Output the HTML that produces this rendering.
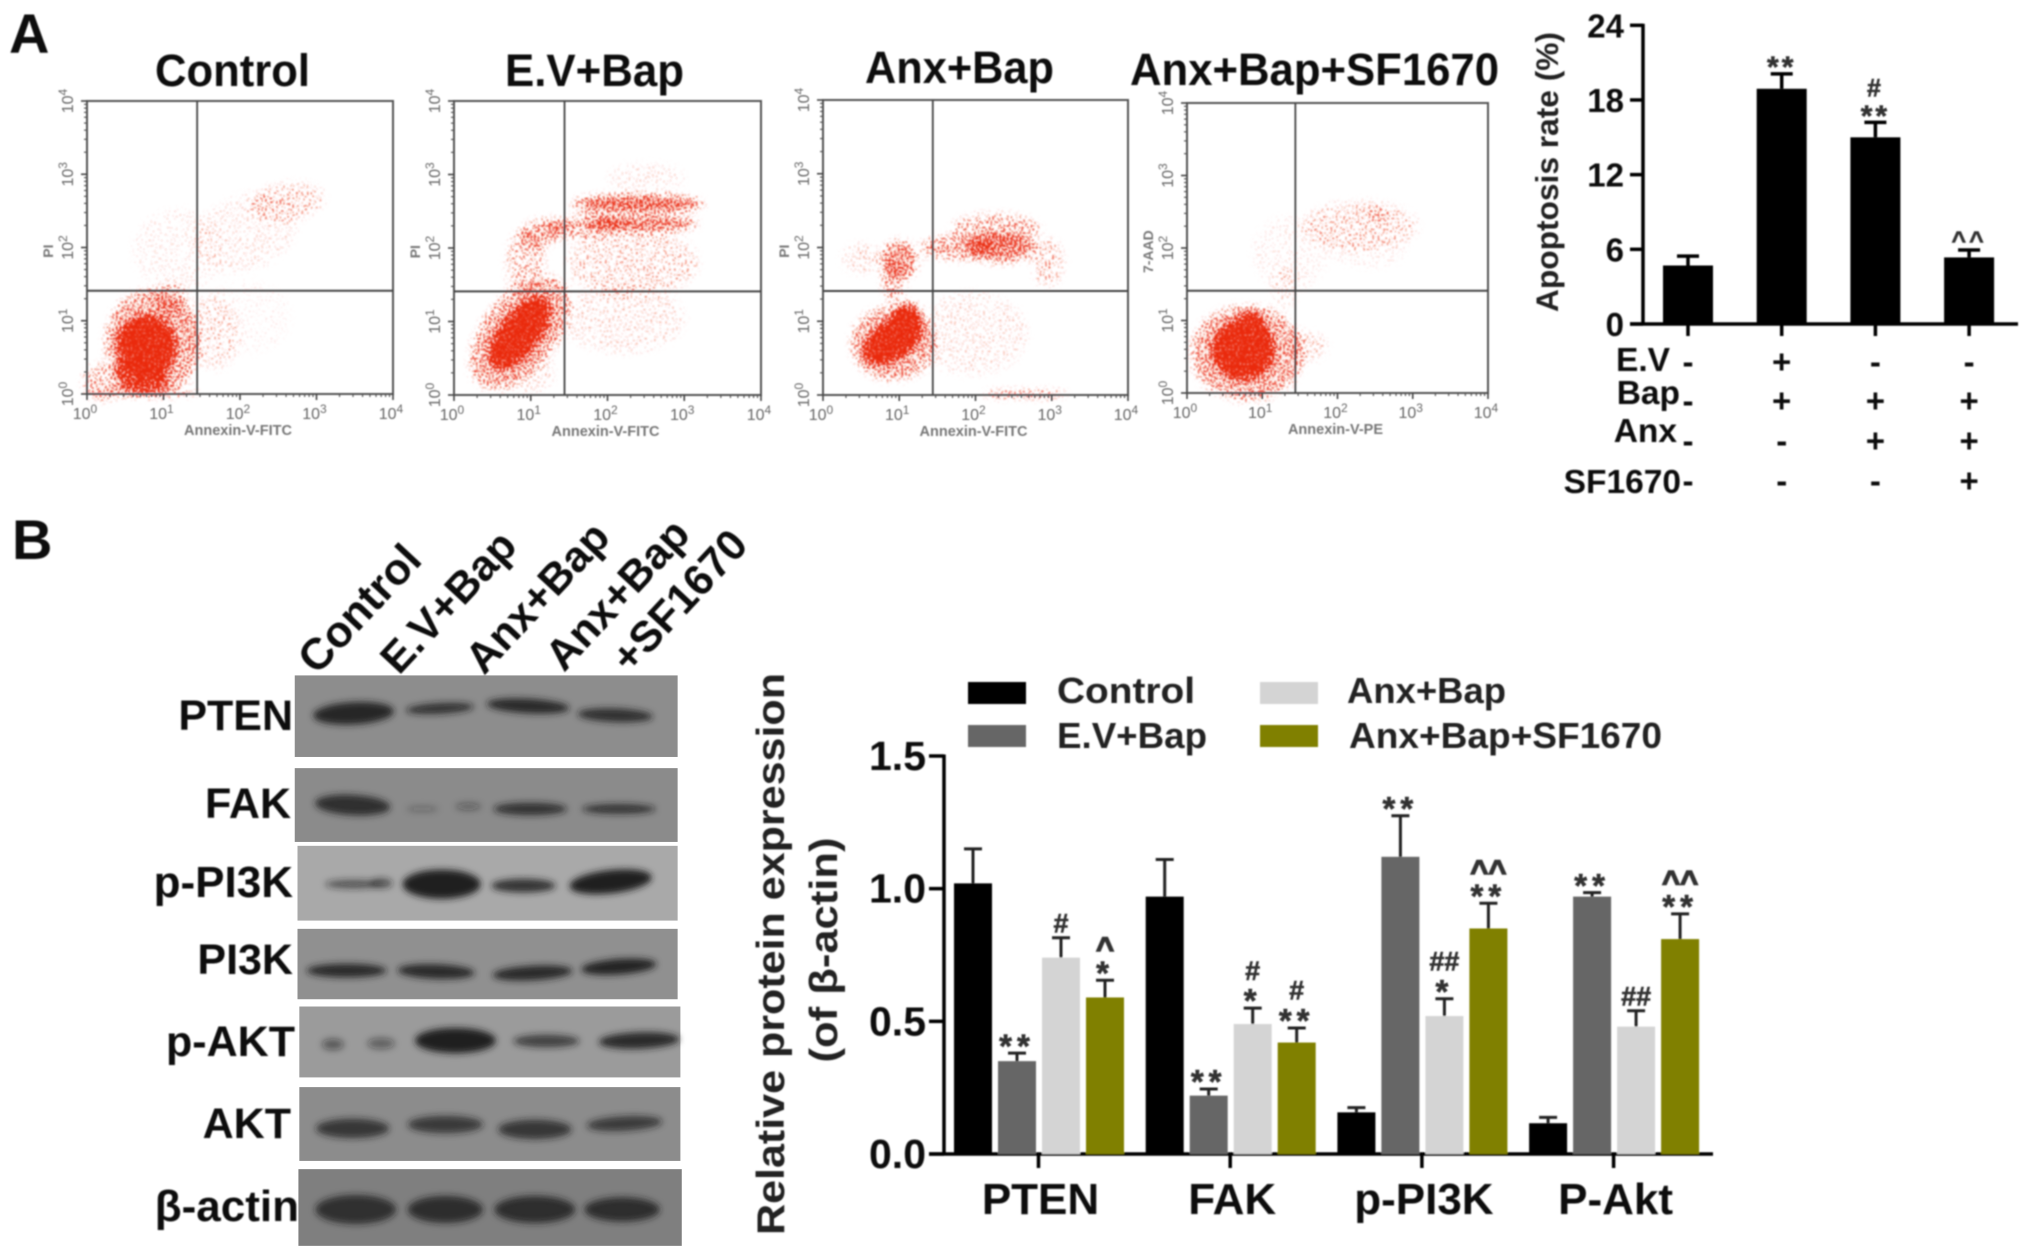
<!DOCTYPE html>
<html lang="en">
<head>
<meta charset="utf-8">
<title>Apoptosis and protein expression figure</title>
<style>
html,body{margin:0;padding:0;background:#fff;width:2031px;height:1259px;overflow:hidden}
svg{display:block;position:absolute;left:0;top:0}
text{font-family:"Liberation Sans",Arial,sans-serif}
.b{font-weight:bold;fill:#111}
</style>
</head>
<body>
<svg id="fig" width="2031" height="1259" viewBox="0 0 2031 1259" xmlns="http://www.w3.org/2000/svg">
<defs>
<filter id="soft" x="-5%" y="-5%" width="110%" height="110%"><feGaussianBlur stdDeviation="0.7"/></filter>
<filter id="bandBlur" x="-30%" y="-60%" width="160%" height="220%"><feGaussianBlur stdDeviation="7"/></filter>
<filter id="stipple0" filterUnits="userSpaceOnUse" x="0" y="90" width="2031" height="320" color-interpolation-filters="sRGB">
<feGaussianBlur in="SourceAlpha" stdDeviation="4" result="blob"/>
<feTurbulence type="fractalNoise" baseFrequency="0.55" numOctaves="1" seed="3" result="n"/>
<feColorMatrix in="n" type="matrix" values="0 0 0 0 0 0 0 0 0 0 0 0 0 0 0 3 0 0 0 -1" result="na"/>
<feComposite in="blob" in2="na" operator="arithmetic" k1="0" k2="4.5" k3="4" k4="-4" result="m"/>
<feFlood flood-color="#ea2a10"/>
<feComposite in2="m" operator="in"/>
<feGaussianBlur stdDeviation="0.45"/>
</filter>
</defs>
<rect x="0" y="0" width="2031" height="1259" fill="#fff"/>

<g id="flow" filter="url(#soft)"></g>
<g id="apo" filter="url(#soft)"></g>

<g filter="url(#soft)">
<text class="b" x="9" y="53" font-size="56">A</text>
<text class="b" x="12" y="559" font-size="56">B</text>
<text class="b" x="155" y="86" font-size="45" textLength="155" lengthAdjust="spacingAndGlyphs">Control</text>
<text class="b" x="505" y="86" font-size="45" textLength="179" lengthAdjust="spacingAndGlyphs">E.V+Bap</text>
<text class="b" x="865" y="83" font-size="45" textLength="189" lengthAdjust="spacingAndGlyphs">Anx+Bap</text>
<text class="b" x="1130" y="85" font-size="45" textLength="369" lengthAdjust="spacingAndGlyphs">Anx+Bap+SF1670</text>
</g>

<g>
<g transform="translate(0 498.2) scale(.4591 .4855)">
<rect x="642" y="365" width="834" height="168" fill="#8d8d8d"/>
<rect x="642" y="556" width="834" height="152" fill="#8b8b8b"/>
<rect x="648" y="716" width="828" height="154" fill="#a9a9a9"/>
<rect x="648" y="887" width="828" height="145" fill="#909090"/>
<rect x="652" y="1047" width="830" height="146" fill="#9b9b9b"/>
<rect x="652" y="1213" width="830" height="152" fill="#8c8c8c"/>
<rect x="650" y="1382" width="835" height="158" fill="#7f7f7f"/>
<g fill="#1c1c1c" filter="url(#bandBlur)">
<ellipse cx="770" cy="443" rx="88" ry="23" fill-opacity=".92" transform="rotate(-3 770 443)"/>
<ellipse cx="958" cy="433" rx="74" ry="11" fill-opacity=".8" transform="rotate(-3 958 433)"/>
<ellipse cx="1150" cy="428" rx="90" ry="15" fill-opacity=".9" transform="rotate(3 1150 428)"/>
<ellipse cx="1340" cy="447" rx="82" ry="14" fill-opacity=".85" transform="rotate(2 1340 447)"/>
<ellipse cx="768" cy="632" rx="82" ry="21" fill-opacity=".85" transform="rotate(3 768 632)"/>
<ellipse cx="920" cy="640" rx="35" ry="6" fill-opacity=".26"/>
<ellipse cx="1020" cy="635" rx="28" ry="7" fill-opacity=".38"/>
<ellipse cx="1155" cy="640" rx="80" ry="13" fill-opacity=".78"/>
<ellipse cx="1348" cy="640" rx="80" ry="10" fill-opacity=".78"/>
<ellipse cx="770" cy="795" rx="62" ry="9" fill-opacity=".6"/>
<ellipse cx="830" cy="793" rx="25" ry="10" fill-opacity=".6"/>
<ellipse cx="962" cy="795" rx="85" ry="30" fill-opacity=".98"/>
<ellipse cx="1140" cy="798" rx="70" ry="14" fill-opacity=".85"/>
<ellipse cx="1330" cy="790" rx="90" ry="24" fill-opacity=".98" transform="rotate(-6 1330 790)"/>
<ellipse cx="755" cy="973" rx="87" ry="14" fill-opacity=".9"/>
<ellipse cx="950" cy="975" rx="84" ry="15" fill-opacity=".9" transform="rotate(2 950 975)"/>
<ellipse cx="1160" cy="978" rx="87" ry="15" fill-opacity=".9" transform="rotate(-3 1160 978)"/>
<ellipse cx="1348" cy="965" rx="82" ry="16" fill-opacity=".95" transform="rotate(-4 1348 965)"/>
<ellipse cx="725" cy="1125" rx="24" ry="11" fill-opacity=".5"/>
<ellipse cx="830" cy="1123" rx="30" ry="11" fill-opacity=".45"/>
<ellipse cx="992" cy="1117" rx="88" ry="26" fill-opacity=".98"/>
<ellipse cx="1190" cy="1118" rx="72" ry="13" fill-opacity=".7"/>
<ellipse cx="1392" cy="1117" rx="88" ry="17" fill-opacity=".9" transform="rotate(-2 1392 1117)"/>
<ellipse cx="768" cy="1298" rx="80" ry="20" fill-opacity=".75"/>
<ellipse cx="970" cy="1290" rx="82" ry="18" fill-opacity=".72"/>
<ellipse cx="1165" cy="1300" rx="80" ry="20" fill-opacity=".75"/>
<ellipse cx="1360" cy="1288" rx="82" ry="15" fill-opacity=".72" transform="rotate(-3 1360 1288)"/>
<ellipse cx="775" cy="1465" rx="88" ry="30" fill-opacity=".78"/>
<ellipse cx="970" cy="1465" rx="82" ry="28" fill-opacity=".8"/>
<ellipse cx="1165" cy="1465" rx="88" ry="28" fill-opacity=".85"/>
<ellipse cx="1355" cy="1465" rx="82" ry="25" fill-opacity=".85"/>
</g>
</g>
<g filter="url(#soft)">
<text class="b" x="293" y="730" font-size="43" text-anchor="end">PTEN</text>
<text class="b" x="291" y="818" font-size="43" text-anchor="end">FAK</text>
<text class="b" x="293" y="897" font-size="44" text-anchor="end">p-PI3K</text>
<text class="b" x="293" y="974" font-size="43" text-anchor="end">PI3K</text>
<text class="b" x="295" y="1056" font-size="43" text-anchor="end">p-AKT</text>
<text class="b" x="291" y="1138" font-size="43" text-anchor="end">AKT</text>
<text class="b" x="299" y="1221" font-size="44" text-anchor="end">β-actin</text>
<text class="b" font-size="44" transform="translate(317 676) rotate(-47)">Control</text>
<text class="b" font-size="43" transform="translate(399 676) rotate(-47)">E.V+Bap</text>
<text class="b" font-size="43" transform="translate(484 676) rotate(-47)">Anx+Bap</text>
<text class="b" font-size="43" transform="translate(564 673) rotate(-47)">Anx+Bap</text>
<text class="b" font-size="43" transform="translate(630 675) rotate(-47)">+SF1670</text>
</g>
</g>

<g id="bars" filter="url(#soft)"></g>
</svg>

<script>
/* ---------- Flow cytometry data: density regions in log10 decades ---------- */
const flowDecades = [0, 1, 2, 3, 4];
const flowMinorSteps = [2, 3, 4, 5, 6, 7, 8, 9];
const flowXTitles = ['Annexin-V-FITC', 'Annexin-V-FITC', 'Annexin-V-FITC', 'Annexin-V-PE'];
const flowYTitles = ['PI', 'PI', 'PI', '7-AAD'];
const flowGateX = [1.44, 1.44, 1.44, 1.44];
const flowGateY = [1.41, 1.41, 1.41, 1.41];
/* each region: centre x, centre y, radius x, radius y, tilt, density */
const flowControlRegions = [
  [0.78, 0.66, 0.39, 0.42, 0, 1], [0.72, 0.30, 0.35, 0.30, 0, 0.8], [0.86, 0.70, 0.62, 0.72, 0, 0.42],
  [1.10, 1.29, 0.22, 0.22, 0, 0.3], [0.72, 0.03, 0.72, 0.05, 0, 0.5], [0.20, 0.16, 0.25, 0.25, 0, 0.25],
  [1.66, 0.84, 0.35, 0.50, 0, 0.12], [1.20, 1.97, 0.60, 0.55, 0, 0.06], [2.60, 2.62, 0.50, 0.25, -8, 0.18],
  [2.07, 2.20, 0.70, 0.50, -20, 0.08], [2.07, 1.05, 0.60, 0.50, 0, 0.03]
];
const flowEvRegions = [
  [0.86, 0.85, 0.56, 0.27, -52, 1], [0.86, 0.85, 0.85, 0.50, -52, 0.42], [2.40, 2.60, 0.85, 0.12, 0, 0.65],
  [2.45, 2.33, 0.72, 0.10, 0, 0.6], [1.73, 2.30, 0.52, 0.15, -6, 0.4], [1.13, 2.20, 0.30, 0.18, -20, 0.4],
  [0.93, 1.80, 0.25, 0.45, 0, 0.22], [2.33, 1.80, 0.85, 0.46, 0, 0.16], [2.20, 1.03, 0.80, 0.46, 0, 0.1],
  [2.50, 2.95, 0.50, 0.20, 0, 0.08], [0.95, 0.30, 0.35, 0.28, 0, 0.1]
];
const flowAnxRegions = [
  [0.92, 0.75, 0.44, 0.26, -35, 1], [1.10, 1.02, 0.20, 0.22, 0, 1], [0.92, 0.70, 0.55, 0.50, 0, 0.42],
  [1.00, 1.83, 0.24, 0.26, 0, 0.5], [0.92, 1.55, 0.15, 0.28, 0, 0.3], [1.78, 2.00, 0.50, 0.16, 0, 0.38],
  [2.33, 2.00, 0.46, 0.20, 0, 0.55], [2.27, 2.25, 0.58, 0.20, 0, 0.3], [2.95, 1.80, 0.20, 0.32, 0, 0.2],
  [1.96, 0.83, 0.72, 0.56, 0, 0.09], [0.50, 1.85, 0.25, 0.20, 0, 0.12], [2.64, 0.01, 0.55, 0.03, 0, 0.65]
];
const flowSfRegions = [
  [0.75, 0.60, 0.42, 0.42, 0, 1], [0.84, 0.90, 0.20, 0.22, 0, 1], [0.80, 0.55, 0.75, 0.65, 0, 0.42],
  [1.60, 0.64, 0.26, 0.20, 0, 0.14], [2.30, 2.30, 0.76, 0.34, 0, 0.17], [1.37, 1.93, 0.50, 0.50, 0, 0.06],
  [1.30, 1.47, 0.15, 0.30, 0, 0.1], [2.40, 1.95, 0.50, 0.22, 0, 0.05], [2.55, 2.45, 0.18, 0.10, 0, 0.2]
];
const flowRegions = [flowControlRegions, flowEvRegions, flowAnxRegions, flowSfRegions];

/* ---------- Apoptosis chart data ---------- */
const apoptosisGroups = ['Control', 'E.V+Bap', 'Anx+Bap', 'Anx+Bap+SF1670'];
const apoptosisValues = [4.7, 18.9, 15.0, 5.35];
const apoptosisErrors = [0.75, 1.2, 1.2, 0.6];
const apoptosisTicks = [0, 6, 12, 18, 24];
const apoptosisMarks = [[], ['**'], ['**', '#'], ['^^']];
const treatmentNames = ['E.V', 'Bap', 'Anx', 'SF1670'];
const treatmentEv = ['-', '+', '-', '-'];
const treatmentBap = ['-', '+', '+', '+'];
const treatmentAnx = ['-', '-', '+', '+'];
const treatmentSf = ['-', '-', '-', '+'];
const treatmentRows = [treatmentEv, treatmentBap, treatmentAnx, treatmentSf];

/* ---------- Protein expression chart data ---------- */
const proteinCategories = ['PTEN', 'FAK', 'p-PI3K', 'P-Akt'];
const proteinSeriesNames = ['Control', 'E.V+Bap', 'Anx+Bap', 'Anx+Bap+SF1670'];
const proteinTicks = [0, 0.5, 1, 1.5];
const proteinTickLabels = ['0.0', '0.5', '1.0', '1.5'];
const controlValues = [1.02, 0.97, 0.157, 0.116];
const controlErrors = [0.13, 0.14, 0.018, 0.022];
const evBapValues = [0.35, 0.22, 1.12, 0.97];
const evBapErrors = [0.03, 0.025, 0.155, 0.015];
const anxBapValues = [0.74, 0.49, 0.52, 0.48];
const anxBapErrors = [0.075, 0.06, 0.065, 0.06];
const sfValues = [0.59, 0.42, 0.85, 0.81];
const sfErrors = [0.065, 0.055, 0.095, 0.095];
const proteinValues = [controlValues, evBapValues, anxBapValues, sfValues];
const proteinErrors = [controlErrors, evBapErrors, anxBapErrors, sfErrors];
const controlMarks = [[], [], [], []];
const evBapMarks = [['**'], ['**'], ['**'], ['**']];
const anxBapMarks = [['#'], ['*', '#'], ['*', '##'], ['##']];
const sfMarks = [['*', '^'], ['**', '#'], ['**', '^^'], ['**', '^^']];
const proteinMarks = [controlMarks, evBapMarks, anxBapMarks, sfMarks];

/* ---------- Helpers ---------- */
const NS = 'http://www.w3.org/2000/svg';
function mk(parent, tag, attrs, content) {
  const el = document.createElementNS(NS, tag);
  for (const k in attrs) el.setAttribute(k, attrs[k]);
  if (content !== undefined) el.textContent = content;
  parent.appendChild(el);
  return el;
}
function glyphShift(s, size) {
  const c = s.charAt(0);
  if (c === '*') return size * 0.58;
  if (c === '^') return size * 0.52;
  return size * 0.36;
}

/* ---------- Flow panels ---------- */
const flowRoot = document.getElementById('flow');
const flowLayout = [
  {l: 87, r: 393, t: 101, b: 394},
  {l: 454, r: 761, t: 101, b: 395},
  {l: 823, r: 1128, t: 100, b: 395},
  {l: 1187, r: 1488, t: 103, b: 393}
];
flowLayout.forEach(function (box, p) {
  const sx = function (d) { return box.l + d * (box.r - box.l) / 4; };
  const sy = function (d) { return box.b - d * (box.b - box.t) / 4; };
  const g = mk(flowRoot, 'g', {});
  
  

  const cloud = mk(g, 'g', {filter: 'url(#stipple0)', fill: '#000'});
  
  
  flowRegions[p].forEach(function (r) {
    const cx = sx(r[0]), cy = sy(r[1]);
    const e = mk(cloud, 'ellipse', {
      cx: cx, cy: cy,
      rx: r[2] * (box.r - box.l) / 4, ry: r[3] * (box.b - box.t) / 4,
      'fill-opacity': r[5],
      transform: 'rotate(' + r[4] + ' ' + cx + ' ' + cy + ')'
    });
    
    
  });

  const frame = mk(g, 'rect', {x: box.l, y: box.t, width: box.r - box.l, height: box.b - box.t, fill: 'none', stroke: '#555', 'stroke-width': 2});
  
  
  const gv = mk(g, 'line', {x1: sx(flowGateX[p]), x2: sx(flowGateX[p]), y1: box.t, y2: box.b, stroke: '#444', 'stroke-width': 1.8});
  
  
  const gh = mk(g, 'line', {x1: box.l, x2: box.r, y1: sy(flowGateY[p]), y2: sy(flowGateY[p]), stroke: '#444', 'stroke-width': 2});
  
  

  flowDecades.forEach(function (d, i) {
    const tx = mk(g, 'line', {x1: sx(d), x2: sx(d), y1: box.b, y2: box.b + 6, stroke: '#444', 'stroke-width': 1.6});
    
    
    const ty = mk(g, 'line', {x1: box.l - 6, x2: box.l, y1: sy(d), y2: sy(d), stroke: '#444', 'stroke-width': 1.6});
    
    
    if (i < flowDecades.length - 1) {
      flowMinorSteps.forEach(function (k) {
        const off = d + Math.log10(k);
        const mx = mk(g, 'line', {x1: sx(off), x2: sx(off), y1: box.b, y2: box.b + 3, stroke: '#555', 'stroke-width': 1.2});
        
        
        const my = mk(g, 'line', {x1: box.l - 3, x2: box.l, y1: sy(off), y2: sy(off), stroke: '#555', 'stroke-width': 1.2});
        
        
      });
    }
    const lx = mk(g, 'text', {x: sx(d) - 2, y: box.b + 25, 'font-size': 16, 'text-anchor': 'middle', fill: '#666'}, '10');
    
    
    mk(lx, 'tspan', {dy: -6, 'font-size': 12}, String(d));
    const ly = mk(g, 'text', {'font-size': 16, 'text-anchor': 'middle', fill: '#666', transform: 'translate(' + (box.l - 14) + ' ' + sy(d) + ') rotate(-90)'}, '10');
    
    
    mk(ly, 'tspan', {dy: -6, 'font-size': 12}, String(d));
  });

  const xt = mk(g, 'text', {x: (box.l + box.r) / 2 - 2, y: box.b + 41, 'font-size': 14.5, 'text-anchor': 'middle', fill: '#777', 'font-weight': 'bold'}, flowXTitles[p]);
  
  
  const yt = mk(g, 'text', {'font-size': 14, 'text-anchor': 'middle', fill: '#777', 'font-weight': 'bold', transform: 'translate(' + (box.l - 34) + ' ' + sy(1.95) + ') rotate(-90)'}, flowYTitles[p]);
  
  
});

/* ---------- Apoptosis chart ---------- */
const apoRoot = document.getElementById('apo');
const apoY = function (v) { return 324 - v * 298.7 / 24; };
const apoX = function (i) { return 1688 + i * 93.7; };

const apoAxisY = mk(apoRoot, 'line', {x1: 1643, x2: 1643, y1: apoY(24) - 1.5, y2: apoY(0), stroke: '#000', 'stroke-width': 3.5});


const apoAxisX = mk(apoRoot, 'line', {x1: 1630, x2: 2018, y1: apoY(0), y2: apoY(0), stroke: '#000', 'stroke-width': 3.5});



apoptosisTicks.forEach(function (t) {
  const tk = mk(apoRoot, 'line', {x1: 1630, x2: 1643, y1: apoY(t), y2: apoY(t), stroke: '#000', 'stroke-width': 3.5});
  
  
  const lb = mk(apoRoot, 'text', {x: 1624, y: apoY(t) + 12, 'font-size': 33, 'font-weight': 'bold', 'text-anchor': 'end', fill: '#111'}, String(t));
  
  
});

apoptosisGroups.forEach(function (name, i) {
  const x = apoX(i);
  const bar = mk(apoRoot, 'rect', {x: x - 25, width: 50, y: apoY(apoptosisValues[i]), height: apoY(0) - apoY(apoptosisValues[i]), fill: '#000'});
  
  
  const topY = apoY(apoptosisValues[i] + apoptosisErrors[i]);
  const st = mk(apoRoot, 'line', {x1: x, x2: x, y1: topY, y2: apoY(apoptosisValues[i]), stroke: '#000', 'stroke-width': 3.5});
  
  
  const cp = mk(apoRoot, 'line', {x1: x - 11, x2: x + 11, y1: topY, y2: topY, stroke: '#000', 'stroke-width': 3.5});
  
  
  const xt = mk(apoRoot, 'line', {x1: x, x2: x, y1: apoY(0), y2: apoY(0) + 12, stroke: '#000', 'stroke-width': 3.5});
  
  
  apoptosisMarks[i].forEach(function (m, j) {
    const size = m.charAt(0) === '*' ? 30 : 25;
    const cy = topY - 14 - j * 21;
    const sig = mk(apoRoot, 'text', {x: x, y: cy + glyphShift(m, size), 'font-size': size, 'text-anchor': 'middle', 'font-weight': 'bold', fill: '#333', stroke: '#333', 'stroke-width': 0.6, 'letter-spacing': 3}, m);
    
    
  });
});

const apoTitle = mk(apoRoot, 'text', {'font-size': 31.5, 'text-anchor': 'middle', 'font-weight': 'bold', fill: '#222', textLength: 280, lengthAdjust: 'spacingAndGlyphs', transform: 'translate(1558 172) rotate(-90)'}, 'Apoptosis rate (%)');



const treatLabelY = [371, 404, 442, 493];
const treatLabelRight = [1670, 1680, 1677, 1681];
const treatRowY = [362, 401, 441, 481];
treatmentNames.forEach(function (name, r) {
  const lb = mk(apoRoot, 'text', {x: treatLabelRight[r], y: treatLabelY[r], 'font-size': 33.5, 'font-weight': 'bold', 'text-anchor': 'end', fill: '#111'}, name);
  
  
  treatmentRows[r].forEach(function (sym, c) {
    const s = mk(apoRoot, 'text', {x: apoX(c), y: treatRowY[r] + 11, 'font-size': 33, 'font-weight': 'bold', 'text-anchor': 'middle', fill: '#111'}, sym);
    
    
  });
});

/* ---------- Protein expression chart ---------- */
const barRoot = document.getElementById('bars');
const barY = function (v) { return 1154 - v * 398 / 1.5; };
const barX = function (cat, ser) { return 1039 + cat * 191.7 + (ser - 1.5) * 44; };
const seriesFill = ['#000000', '#666666', '#d4d4d4', '#808000'];

const barAxisY = mk(barRoot, 'line', {x1: 944, x2: 944, y1: barY(1.5) - 1.5, y2: barY(0), stroke: '#000', 'stroke-width': 3.5});


const barAxisX = mk(barRoot, 'line', {x1: 929, x2: 1713, y1: barY(0), y2: barY(0), stroke: '#000', 'stroke-width': 3.5});



proteinTicks.forEach(function (t, i) {
  const tk = mk(barRoot, 'line', {x1: 929, x2: 944, y1: barY(t), y2: barY(t), stroke: '#000', 'stroke-width': 3.5});
  
  
  const lb = mk(barRoot, 'text', {x: 926, y: barY(t) + 14, 'font-size': 41, 'font-weight': 'bold', 'text-anchor': 'end', fill: '#111'}, proteinTickLabels[i]);
  
  
});

proteinCategories.forEach(function (name, c) {
  const gx = 1040 + c * 191.7 - 1.5;
  const tk = mk(barRoot, 'line', {x1: gx, x2: gx, y1: barY(0), y2: barY(0) + 14, stroke: '#000', 'stroke-width': 3.5});
  
  
  const lb = mk(barRoot, 'text', {x: gx + 2, y: 1214, 'font-size': 44, 'font-weight': 'bold', 'text-anchor': 'middle', fill: '#111'}, name);
  
  
  proteinSeriesNames.forEach(function (series, s) {
    const v = proteinValues[s][c], e = proteinErrors[s][c], x = barX(c, s), topY = barY(v + e);
    const st = mk(barRoot, 'line', {x1: x, x2: x, y1: topY, y2: barY(v), stroke: '#222', 'stroke-width': 3});
    
    
    const cp = mk(barRoot, 'line', {x1: x - 9, x2: x + 9, y1: topY, y2: topY, stroke: '#222', 'stroke-width': 3});
    
    
    const bar = mk(barRoot, 'rect', {x: x - 19, width: 38, y: barY(v), height: barY(0) - barY(v), fill: seriesFill[s]});
    
    
    proteinMarks[s][c].forEach(function (m, j) {
      const ch = m.charAt(0);
      const size = ch === '*' ? 33 : (ch === '^' ? 31 : 27);
      const cy = topY - 15 - j * 23;
      const sig = mk(barRoot, 'text', {x: x, y: cy + glyphShift(m, size), 'font-size': size, 'text-anchor': 'middle', 'font-weight': 'bold', fill: '#333', stroke: '#333', 'stroke-width': ch === '^' ? 1.4 : 0.6, 'letter-spacing': ch === '*' ? 5 : 0}, m);
      
      
    });
  });
});

const barTitle = mk(barRoot, 'text', {'font-size': 39, 'text-anchor': 'middle', 'font-weight': 'bold', fill: '#222', textLength: 562, lengthAdjust: 'spacingAndGlyphs', transform: 'translate(784 954) rotate(-90)'}, 'Relative protein expression');


const barTitle2 = mk(barRoot, 'text', {'font-size': 39, 'text-anchor': 'middle', 'font-weight': 'bold', fill: '#222', textLength: 225, lengthAdjust: 'spacingAndGlyphs', transform: 'translate(837 950) rotate(-90)'}, '(of β-actin)');



const legendSwatchX = [968, 968, 1260, 1260];
const legendSwatchY = [682, 725, 682, 725];
const legendTextX = [1057, 1057, 1347, 1349];
const legendTextBase = [703, 748, 703, 748];
const legendTextW = [138, 150, 159, 313];
proteinSeriesNames.forEach(function (name, s) {
  const sw = mk(barRoot, 'rect', {x: legendSwatchX[s], y: legendSwatchY[s], width: 58, height: 22, fill: seriesFill[s]});
  
  
  const lb = mk(barRoot, 'text', {x: legendTextX[s], y: legendTextBase[s], 'font-size': 36, 'font-weight': 'bold', fill: '#222', textLength: legendTextW[s], lengthAdjust: 'spacingAndGlyphs'}, name);
  
  
});
</script>
</body>
</html>
